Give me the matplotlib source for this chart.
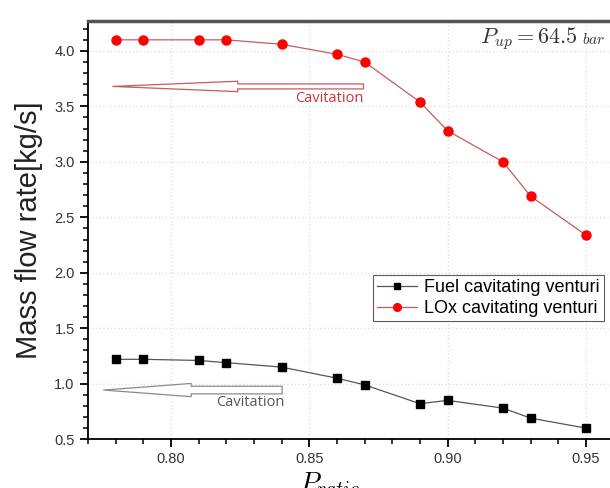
import matplotlib.pyplot as plt
from matplotlib.ticker import MultipleLocator, FormatStrFormatter

plt.rcParams['font.family'] = ['Liberation Sans', 'DejaVu Sans']
plt.rcParams['mathtext.fontset'] = 'cm'

# data
p_ratio = [0.78, 0.79, 0.81, 0.82, 0.84, 0.86, 0.87, 0.89, 0.90, 0.92, 0.93, 0.95]
fuel = [1.22, 1.22, 1.21, 1.19, 1.15, 1.05, 0.99, 0.82, 0.85, 0.78, 0.69, 0.60]
lox = [4.10, 4.10, 4.10, 4.10, 4.06, 3.97, 3.90, 3.54, 3.28, 3.00, 2.69, 2.34]

# cavitation arrows: (tail x, tip x, y), label position
lox_arrow = (0.8696, 0.779, 3.68)
lox_text = (0.8696, 3.575)
fuel_arrow = (0.8402, 0.7757, 0.943)
fuel_text = (0.8412, 0.835)

fig = plt.figure(figsize=(6.1, 4.88), dpi=100)
ax = fig.add_axes([0.144, 0.100, 0.862, 0.857])

ax.plot(p_ratio, fuel, color='#555555', lw=0.9, marker='s', ms=5.8,
        mfc='black', mec='black', label='Fuel cavitating venturi')
ax.plot(p_ratio, lox, color='#c85a5a', lw=0.9, marker='o', ms=6.5,
        mfc='#ff0000', mec='#ff0000', label='LOx cavitating venturi')

ax.set_xlim(0.77, 0.96)
ax.set_ylim(0.5, 4.27)
ax.xaxis.set_major_locator(MultipleLocator(0.05))
ax.xaxis.set_minor_locator(MultipleLocator(0.01))
ax.yaxis.set_major_locator(MultipleLocator(0.5))
ax.yaxis.set_minor_locator(MultipleLocator(0.1))
ax.xaxis.set_major_formatter(FormatStrFormatter('%.2f'))
ax.yaxis.set_major_formatter(FormatStrFormatter('%.1f'))
ax.tick_params(which='major', direction='out', length=6, width=1.3,
               labelsize=10.5, labelcolor='#333333')
ax.tick_params(which='minor', direction='out', length=3.5, width=1.1)
ax.grid(True, which='major', color='#e2e2e2', ls=':', lw=1.0)

ax.spines['right'].set_visible(False)
ax.spines['top'].set_linewidth(2.5)
ax.spines['top'].set_color('#555555')
ax.spines['left'].set_linewidth(1.3)
ax.spines['bottom'].set_linewidth(1.3)

ax.set_ylabel('Mass flow rate[kg/s]', fontsize=21, color='#222222', labelpad=8)
ax.set_xlabel('$P_{ratio}$', fontsize=20, labelpad=4)
ax.xaxis.set_label_coords(0.46, -0.075)

# hollow arrows: head length, head width, tail width (x mutation scale 10 pt)
arrow_styles = [(lox_arrow, '#c85a5a', 9.0, 0.75, 0.36),
                (fuel_arrow, '#8a8a8a', 6.3, 0.95, 0.55)]
for (x0, x1, y), col, hl, hw, tw in arrow_styles:
    ax.annotate('', xy=(x1, y), xytext=(x0, y),
                arrowprops=dict(arrowstyle='simple,head_length=%.2f,head_width=%.2f,tail_width=%.2f'
                                % (hl, hw, tw),
                                mutation_scale=10,
                                fc='white', ec=col, lw=0.9,
                                shrinkA=0, shrinkB=0))

ax.text(lox_text[0], lox_text[1], 'Cavitation', color='#c9353d', fontsize=10.5,
        family='Open Sans', ha='right', va='center')
ax.text(fuel_text[0], fuel_text[1], 'Cavitation', color='#555555', fontsize=10.5,
        family='Open Sans', ha='right', va='center')

# upstream pressure note, "bar" set smaller as in the source
fig.text(0.948, 0.922, r'$P_{up} = 64.5$',
         fontsize=16, color='#333333', ha='right', va='center')
fig.text(0.954, 0.920, r'$bar$',
         fontsize=11, color='#333333', ha='left', va='center')

leg = ax.legend(loc='upper left', bbox_to_anchor=(0.611, 0.437),
                bbox_transform=fig.transFigure, fontsize=13, frameon=True,
                fancybox=False, edgecolor='#333333', handlelength=2.2,
                handletextpad=0.4, borderpad=0.25, labelspacing=0.2,
                borderaxespad=0, markerscale=0.85)
leg.get_frame().set_linewidth(0.8)

fig.savefig('out.png', dpi=100)
